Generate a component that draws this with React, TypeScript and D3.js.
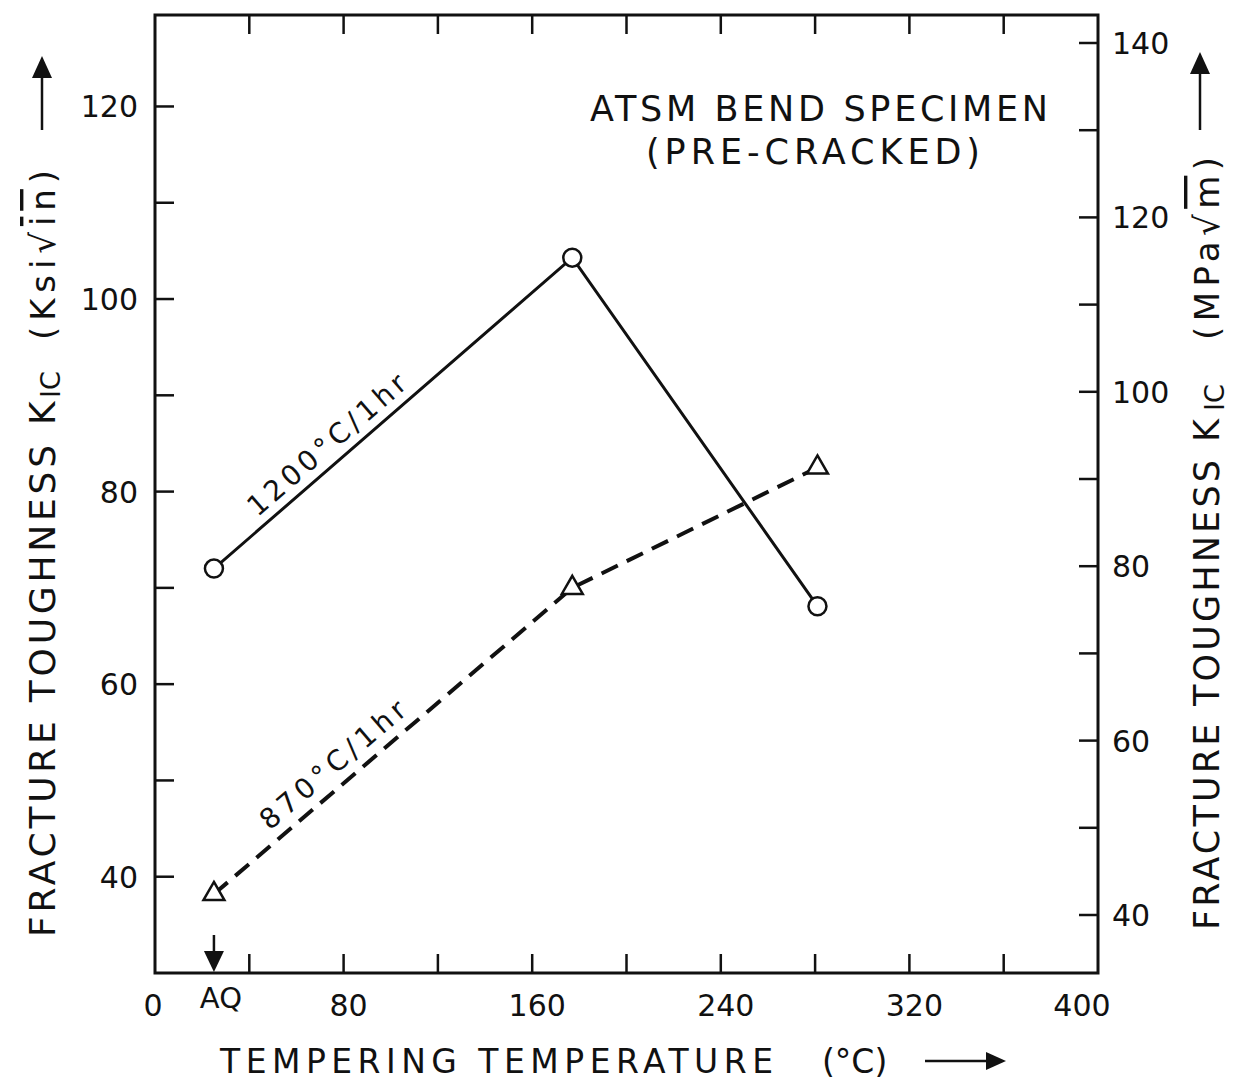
import React from 'react';
import * as d3 from 'd3';

// ---------- data ----------
const xTickValues = [40, 80, 120, 160, 200, 240, 280, 320, 360];
const xLabelValues = [0, 80, 160, 240, 320, 400];
const aqTemp = 25; // as-quenched position
const leftTickValues = [40, 50, 60, 70, 80, 90, 100, 110, 120];
const leftLabelValues = [40, 60, 80, 100, 120];
const rightTickValues = [40, 50, 60, 70, 80, 90, 100, 110, 120, 130, 140];
const rightLabelValues = [40, 60, 80, 100, 120, 140];

const temps1200 = [25, 177, 281];
const kic1200 = [72.0, 104.3, 68.1];
const temps870 = [25, 177, 281];
const kic870 = [38.2, 70.0, 82.5];

const FONT = "'DejaVu Sans', sans-serif";

export default function App() {
  const x = d3.scaleLinear().domain([0, 400]).range([155, 1098]);
  const yL = d3.scaleLinear().domain([30, 129.5]).range([973, 15]);
  const yR = d3.scaleLinear().domain([40, 140]).range([915, 43]);

  const line = d3
    .line<[number, number]>()
    .x((d) => x(d[0]))
    .y((d) => yL(d[1]));

  const pts1200: [number, number][] = temps1200.map((t, i) => [t, kic1200[i]]);
  const pts870: [number, number][] = temps870.map((t, i) => [t, kic870[i]]);

  const tri = d3.symbol().type(d3.symbolTriangle).size(190)();

  const left = 155, right = 1098, top = 15, bottom = 973;
  const tl = 19;

  const vt = (xx: number, yy: number) => `translate(${xx},${yy}) rotate(-90)`;
  const labelDx = (v: number) => (v === 0 ? -2 : v === 400 ? -16 : 5);

  return (
    <svg
      width={1234}
      height={1081}
      style={{ position: 'absolute', left: 0, top: 0, background: '#fff' }}
      fontFamily={FONT}
    >
      <rect x={0} y={0} width={1234} height={1081} fill="#fff" />
      {/* frame */}
      <rect x={left} y={top} width={right - left} height={bottom - top} fill="none" stroke="#111" strokeWidth={3} />

      {/* x ticks bottom & top */}
      {xTickValues.map((v) => (
        <g key={'xt' + v}>
          <line x1={x(v)} x2={x(v)} y1={bottom} y2={bottom - tl} stroke="#111" strokeWidth={2.5} />
          <line x1={x(v)} x2={x(v)} y1={top} y2={top + tl} stroke="#111" strokeWidth={2.5} />
        </g>
      ))}
      {xLabelValues.map((v) => (
        <text key={'xl' + v} x={x(v) + labelDx(v)} y={1016} textAnchor="middle" fontSize={30} fill="#111">
          {v}
        </text>
      ))}
      <text x={x(aqTemp) + 7} y={1008} textAnchor="middle" fontSize={29} fill="#111">
        AQ
      </text>
      {/* AQ arrow */}
      <line x1={x(aqTemp)} x2={x(aqTemp)} y1={935} y2={953} stroke="#111" strokeWidth={2.5} />
      <path
        d={`M${x(aqTemp) - 10},${951} L${x(aqTemp) + 10},${951} L${x(aqTemp)},${972} Z`}
        fill="#111"
      />

      {/* left ticks */}
      {leftTickValues.map((v) => (
        <line key={'lt' + v} x1={left} x2={left + tl} y1={yL(v)} y2={yL(v)} stroke="#111" strokeWidth={2.5} />
      ))}
      {leftLabelValues.map((v) => (
        <text key={'ll' + v} x={138} y={yL(v) + 11} textAnchor="end" fontSize={30} fill="#111">
          {v}
        </text>
      ))}

      {/* right ticks */}
      {rightTickValues.map((v) => (
        <line key={'rt' + v} x1={right} x2={right - tl} y1={yR(v)} y2={yR(v)} stroke="#111" strokeWidth={2.5} />
      ))}
      {rightLabelValues.map((v) => (
        <text key={'rl' + v} x={1112} y={yR(v) + 11} textAnchor="start" fontSize={30} fill="#111">
          {v}
        </text>
      ))}

      {/* series lines */}
      <path d={line(pts1200) || ''} fill="none" stroke="#111" strokeWidth={3} />
      <path d={line(pts870) || ''} fill="none" stroke="#111" strokeWidth={4} strokeDasharray="18 10" />

      {pts1200.map((d, i) => (
        <circle key={'c' + i} cx={x(d[0])} cy={yL(d[1])} r={9} fill="#fff" stroke="#111" strokeWidth={2.5} />
      ))}
      {pts870.map((d, i) => (
        <path
          key={'t' + i}
          d={tri || ''}
          transform={`translate(${x(d[0])},${yL(d[1])})`}
          fill="#fff"
          stroke="#111"
          strokeWidth={2.5}
        />
      ))}

      {/* series labels */}
      <text
        transform={`translate(333,452) rotate(-41)`}
        textAnchor="middle"
        fontSize={28}
        fill="#111"
        textLength={200}
        lengthAdjust="spacing"
      >
        1200°C/1hr
      </text>
      <text
        transform={`translate(339,772) rotate(-40.4)`}
        textAnchor="middle"
        fontSize={28}
        fill="#111"
        textLength={182}
        lengthAdjust="spacing"
      >
        870°C/1hr
      </text>

      {/* inset title */}
      <text x={819} y={121} textAnchor="middle" fontSize={35} fill="#111" textLength={458} lengthAdjust="spacing">
        ATSM BEND SPECIMEN
      </text>
      <text x={813} y={164} textAnchor="middle" fontSize={35} fill="#111" textLength={334} lengthAdjust="spacing">
        (PRE-CRACKED)
      </text>

      {/* x axis title */}
      <text x={220} y={1073} fontSize={33} fill="#111" textLength={553} lengthAdjust="spacing">
        TEMPERING TEMPERATURE
      </text>
      <text x={822} y={1073} fontSize={33} fill="#111">
        (°C)
      </text>
      <line x1={925} x2={990} y1={1061} y2={1061} stroke="#111" strokeWidth={2.5} />
      <path d="M986,1052 L1006,1061 L986,1070 Z" fill="#111" />

      {/* left y title */}
      <text transform={vt(55, 937)} fontSize={36} fill="#111" textLength={492} lengthAdjust="spacing">
        FRACTURE TOUGHNESS
      </text>
      <text transform={vt(55, 425)} fontSize={36} fill="#111">
        K
      </text>
      <text transform={vt(60, 398)} fontSize={27} fill="#111">
        IC
      </text>
      <text transform={vt(55, 340)} fontSize={34} fill="#111" textLength={170} lengthAdjust="spacing">
        (Ksi√<tspan style={{ textDecoration: 'overline' }}>in</tspan>)
      </text>
      <line x1={42} x2={42} y1={130} y2={75} stroke="#111" strokeWidth={2.5} />
      <path d="M32,78 L42,56 L52,78 Z" fill="#111" />

      {/* right y title */}
      <text transform={vt(1219, 930)} fontSize={35} fill="#111" textLength={470} lengthAdjust="spacing">
        FRACTURE TOUGHNESS
      </text>
      <text transform={vt(1219, 442)} fontSize={35} fill="#111">
        K
      </text>
      <text transform={vt(1224, 411)} fontSize={27} fill="#111">
        IC
      </text>
      <text transform={vt(1219, 340)} fontSize={34} fill="#111" textLength={183} lengthAdjust="spacing">
        (MPa√<tspan style={{ textDecoration: 'overline' }}>m</tspan>)
      </text>
      <line x1={1200} x2={1200} y1={130} y2={72} stroke="#111" strokeWidth={2.5} />
      <path d="M1190,74 L1200,52 L1210,74 Z" fill="#111" />
    </svg>
  );
}
